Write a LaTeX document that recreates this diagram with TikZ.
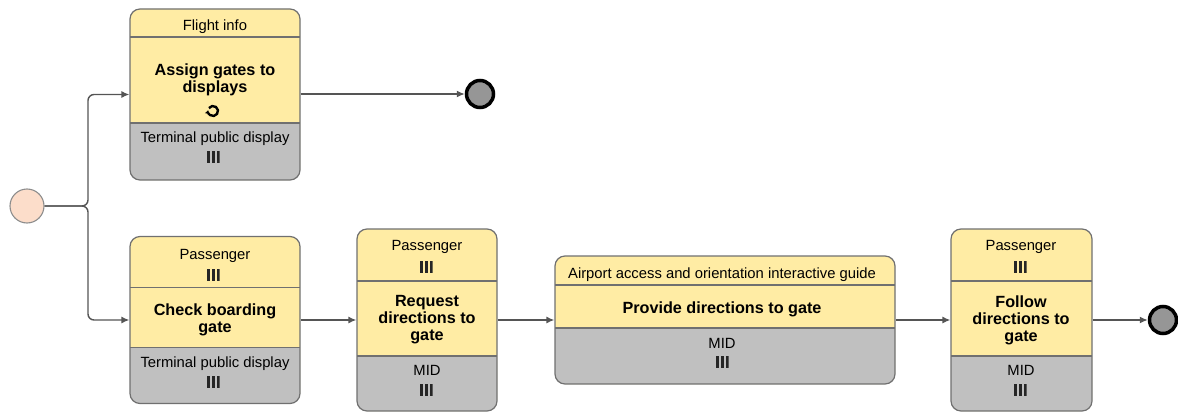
\documentclass[tikz,border=0pt]{standalone}
\usepackage{fontspec}
\setmainfont{Liberation Sans}
\usetikzlibrary{arrows.meta}

\definecolor{taskyellow}{RGB}{255,236,164}
\definecolor{taskgrey}{RGB}{192,192,192}
\definecolor{edgegrey}{RGB}{112,112,112}
\definecolor{flowgrey}{RGB}{85,85,85}
\definecolor{startfill}{RGB}{252,221,202}
\definecolor{endfill}{RGB}{150,150,150}

\tikzset{
  taskbox/.style n args={4}{draw=edgegrey, line width=1.2pt, rounded corners=10pt,
    fill=taskyellow, inner sep=0pt, minimum width=#1, minimum height=#2,
    path picture={
      \fill[taskgrey, sharp corners] (path picture bounding box.south west)
        rectangle ([yshift=#4]path picture bounding box.south east);
      \draw[edgegrey, line width=1.2pt, sharp corners]
        ([yshift=-#3]path picture bounding box.north west) -- ([yshift=-#3]path picture bounding box.north east);
      \draw[edgegrey, line width=1.2pt, sharp corners]
        ([yshift=#4]path picture bounding box.south west) -- ([yshift=#4]path picture bounding box.south east);
    }},
  lane/.style={font=\fontsize{14.8}{17}\selectfont, inner sep=0pt, text height=10pt, text depth=0pt},
  % three bars of the multiple instance marker
  multimark/.style={minimum width=13pt, minimum height=12pt, inner sep=0pt,
    path picture={
      \foreach \dx in {-5,0,5}
        \fill[black!85] ([xshift=\dx pt-1.5pt]path picture bounding box.south)
          rectangle ([xshift=\dx pt+1.5pt]path picture bounding box.north);
    }},
  task/.style={font=\bfseries\fontsize{16.2}{17}\selectfont, align=center, inner sep=0pt},
  flow/.style={draw=flowgrey, line width=1.4pt, -{Latex[length=8pt,width=7pt]}},
  startev/.style={circle, draw=edgegrey!80, line width=1.1pt, fill=startfill, minimum size=34pt, inner sep=0pt},
  endev/.style={circle, draw=black, line width=3.5pt, fill=endfill, minimum size=27pt, inner sep=0pt}
}

\begin{document}
\begin{tikzpicture}[x=1pt,y=-1pt]
  \useasboundingbox (0,0) rectangle (1178,412);

  % events
  \node[startev] (start) at (27,206) {};
  \coordinate (fork) at (88,206);
  \node[endev] (end1) at (480,94) {};
  \node[endev] (end2) at (1163,320) {};

  % tasks
  \node[taskbox={170pt}{171pt}{28pt}{57pt}] (assign) at (215,94.5) {};
  \node[taskbox={170pt}{167pt}{51pt}{56pt}] (check) at (215,320) {};
  \node[taskbox={140pt}{182pt}{52pt}{55pt}] (request) at (427,320) {};
  \node[taskbox={340pt}{128pt}{29pt}{56pt}] (provide) at (725,320) {};
  \node[taskbox={141pt}{182pt}{52pt}{55pt}] (follow) at (1021.5,320) {};

  \node[lane] (assign-lane) at (215,25.5) {Flight info};
  \node[task] (assign-name) at (215,80) {Assign gates to\\displays};
  \coordinate (assign-loop) at (213,111);
  \draw[black, line width=2.4pt, -{Latex[length=3.5pt,width=5.5pt]}]
    (assign-loop) ++(145:5pt) arc[start angle=145, end angle=-190, radius=5pt];
  \node[lane] (assign-res) at (215,137) {Terminal public display};
  \node[multimark] (assign-resm) at (213,157) {};

  \node[lane] (check-lane) at (215,254) {Passenger};
  \node[multimark] (check-lanem) at (213,275) {};
  \node[task] (check-name) at (215,320) {Check boarding\\gate};
  \node[lane] (check-res) at (215,362) {Terminal public display};
  \node[multimark] (check-resm) at (213,381.5) {};

  \node[lane] (request-lane) at (427,245.5) {Passenger};
  \node[multimark] (request-lanem) at (426,266.5) {};
  \node[task] (request-name) at (427,320) {Request\\directions to\\gate};
  \node[lane] (request-res) at (427,370.5) {MID};
  \node[multimark] (request-resm) at (426,390) {};

  \node[lane] (provide-lane) at (722,273.5) {Airport access and orientation interactive guide};
  \node[task] (provide-name) at (722,309) {Provide directions to gate};
  \node[lane] (provide-res) at (722,343) {MID};
  \node[multimark] (provide-resm) at (722,361.5) {};

  \node[lane] (follow-lane) at (1021,245.5) {Passenger};
  \node[multimark] (follow-lanem) at (1020,266.5) {};
  \node[task] (follow-name) at (1021,320) {Follow\\directions to\\gate};
  \node[lane] (follow-res) at (1021,370.5) {MID};
  \node[multimark] (follow-resm) at (1020,390) {};

  % flows
  \draw[flow, rounded corners=6pt] (start.east) -- (fork) |- (assign.west);
  \draw[flow, rounded corners=6pt] (start.east) -- (fork) |- (check.west);
  \draw[flow] (assign.east |- end1) -- (end1.west);
  \draw[flow] (check.east) -- (request.west);
  \draw[flow] (request.east) -- (provide.west);
  \draw[flow] (provide.east) -- (follow.west);
  \draw[flow] (follow.east) -- (end2.west);
\end{tikzpicture}
\end{document}
